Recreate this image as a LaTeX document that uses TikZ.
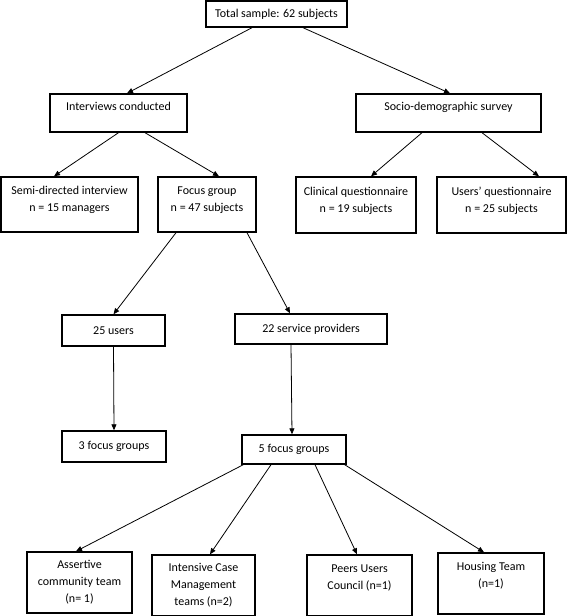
\documentclass[tikz,border=0pt]{standalone}
\usepackage{fontspec}
\setmainfont{Carlito}
\usetikzlibrary{arrows.meta}

\begin{document}
\begin{tikzpicture}[x=1pt,y=-1pt,->,>={Triangle[length=6pt,width=5pt]},
    line width=0.8pt,
    box/.style={rectangle,draw,line width=1.4pt,align=center,inner sep=2pt,
      font=\fontsize{12}{17}\selectfont},
    upper/.style={text height=9pt,text depth=15pt}]

  \useasboundingbox (0,0) rectangle (567,616);

  \node[box,minimum width=141pt,minimum height=26pt] (total) at (276.5,14) {Total sample: 62 subjects};

  \node[box,upper,minimum width=137pt,minimum height=38pt] (interviews) at (118.5,113) {Interviews conducted};
  \node[box,upper,minimum width=185pt,minimum height=38pt] (survey) at (448.5,113) {Socio-demographic survey};

  \node[box,minimum width=137pt,minimum height=55pt] (semi) at (69.5,204.5) {Semi-directed interview\\n = 15 managers\\[-6pt]~};
  \node[box,minimum width=98pt,minimum height=55pt] (focus) at (207,204.5) {Focus group\\n = 47 subjects\\[-6pt]~};
  \node[box,minimum width=120pt,minimum height=56pt] (clinical) at (356,205) {Clinical questionnaire\\n = 19 subjects\\[-6pt]~};
  \node[box,minimum width=129pt,minimum height=56pt] (usersq) at (501.5,205) {Users’ questionnaire\\n = 25 subjects\\[-6pt]~};

  \node[box,minimum width=103pt,minimum height=31pt] (users) at (113.5,330.5) {25 users};
  \node[box,minimum width=152pt,minimum height=30pt] (providers) at (311,329) {22 service providers};

  \node[box,minimum width=104pt,minimum height=31pt] (groupsA) at (114,446.5) {3 focus groups};
  \node[box,minimum width=104pt,minimum height=29pt] (groupsB) at (294,449.5) {5 focus groups};

  \node[box,minimum width=105pt,minimum height=61pt] (assertive) at (79.5,582.5) {Assertive\\community team\\(n= 1)};
  \node[box,minimum width=103pt,minimum height=61pt] (intensive) at (203.5,585.5) {Intensive Case\\Management\\teams (n=2)};
  \node[box,minimum width=105pt,minimum height=61pt] (peers) at (359.5,585.5) {Peers Users\\Council (n=1)\\~};
  \node[box,minimum width=106pt,minimum height=61pt] (housing) at (491,583.5) {Housing Team\\(n=1)\\~};

  \path ([xshift=-24.5pt]total.south) edge ([xshift=8.5pt]interviews.north)
        ([xshift=26.5pt]total.south) edge ([xshift=1.5pt]survey.north);
  \path (interviews.south) edge ([xshift=-15.5pt]semi.north)
        ([xshift=26.5pt]interviews.south) edge ([xshift=12pt]focus.north);
  \path ([xshift=-26.5pt]survey.south) edge ([xshift=15pt]clinical.north)
        ([xshift=33.5pt]survey.south) edge ([xshift=37.5pt]usersq.north);
  \path ([xshift=-31pt]focus.south) edge (users.north)
        ([xshift=40pt]focus.south) edge ([xshift=-21pt]providers.north);
  \path (users.south) edge (groupsA.north);
  \path ([xshift=-20pt]providers.south) edge ([xshift=-2pt]groupsB.north);
  \path ([xshift=2pt]groupsB.south west) edge ([xshift=-3.5pt]assertive.north)
        ([xshift=-23pt]groupsB.south) edge ([xshift=6.5pt]intensive.north)
        ([xshift=21pt]groupsB.south) edge ([xshift=-2.5pt]peers.north)
        ([xshift=-2pt]groupsB.south east) edge ([xshift=-7pt]housing.north);
\end{tikzpicture}
\end{document}
